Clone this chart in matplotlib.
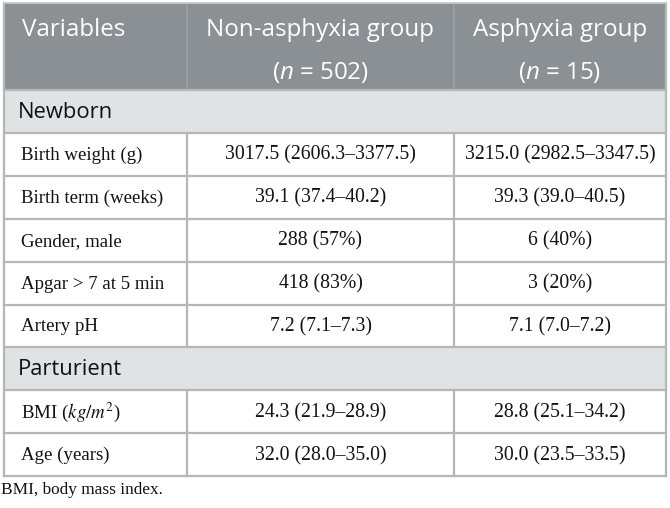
import matplotlib
matplotlib.use("Agg")
import matplotlib.pyplot as plt
from matplotlib.patches import Rectangle

# ---- data ----
col_headers = ["Variables", "Non-asphyxia group", "Asphyxia group"]
group_n = [502, 15]
sections = ["Newborn", "Parturient"]
newborn_vars = ["Birth weight (g)", "Birth term (weeks)", "Gender, male",
                "Apgar > 7 at 5 min", "Artery pH"]
newborn_non = ["3017.5 (2606.3\u20133377.5)", "39.1 (37.4\u201340.2)", "288 (57%)",
               "418 (83%)", "7.2 (7.1\u20137.3)"]
newborn_asp = ["3215.0 (2982.5\u20133347.5)", "39.3 (39.0\u201340.5)", "6 (40%)",
               "3 (20%)", "7.1 (7.0\u20137.2)"]
partur_vars = [r"BMI ($kg/m^2$)", "Age (years)"]
partur_non = ["24.3 (21.9\u201328.9)", "32.0 (28.0\u201335.0)"]
partur_asp = ["28.8 (25.1\u201334.2)", "30.0 (23.5\u201333.5)"]
footnote = "BMI, body mass index."

plt.rcParams['mathtext.fontset'] = 'custom'
plt.rcParams['mathtext.rm'] = 'Open Sans'
plt.rcParams['mathtext.it'] = 'Open Sans:italic'

W, H = 670, 508
fig = plt.figure(figsize=(W / 100, H / 100), dpi=100)
ax = fig.add_axes([0, 0, 1, 1])
ax.set_xlim(0, W)
ax.set_ylim(H, 0)
ax.axis('off')

left, right = 4, 666
xdiv = [left, 187, 454, right]
top = 3
header_h = 87
row_h = 42.9

hdr_bg = '#8a9094'
sec_bg = '#e0e3e4'
line_c = '#b4b6b8'
sans = 'Open Sans'
serif = 'Liberation Serif'
txt_c = '#111111'

# header
ax.add_patch(Rectangle((left, top), right - left, header_h, facecolor=hdr_bg,
                       edgecolor='none', zorder=1))
for x in xdiv[1:-1]:
    ax.plot([x, x], [top, top + header_h], color='#9ca1a5', lw=1.2, zorder=2)
hy1 = 29.5
hy2 = 72.5
hfs = 17.4
ax.text(22, hy1, col_headers[0], color='white', fontsize=hfs, family=sans,
        ha='left', va='center', zorder=3)
for i, name in enumerate(col_headers[1:]):
    cx = (xdiv[i + 1] + xdiv[i + 2]) / 2
    ax.text(cx, hy1, name, color='white', fontsize=hfs, family=sans,
            ha='center', va='center', zorder=3)
    ax.text(cx, hy2, r"($n$ = %d)" % group_n[i], color='white', fontsize=hfs,
            family=sans, ha='center', va='center', zorder=3,
            math_fontfamily='custom')

# body rows
rows = []
rows.append(('section', sections[0]))
for v, a, b in zip(newborn_vars, newborn_non, newborn_asp):
    rows.append(('data', (v, a, b)))
rows.append(('section', sections[1]))
for v, a, b in zip(partur_vars, partur_non, partur_asp):
    rows.append(('data', (v, a, b)))

y = top + header_h
for kind, content in rows:
    y0, y1 = y, y + row_h
    cy = (y0 + y1) / 2
    if kind == 'section':
        ax.add_patch(Rectangle((left, y0), right - left, row_h, facecolor=sec_bg,
                               edgecolor='none', zorder=1))
        ax.text(18, cy + 1, content, fontsize=15.8, family=sans, color=txt_c,
                ha='left', va='center', zorder=3)
    else:
        v, a, b = content
        for x in xdiv[1:-1]:
            ax.plot([x, x], [y0, y1], color=line_c, lw=1.6, zorder=2)
        ax.text(21, cy + 1, v, fontsize=13.6, family=serif, color=txt_c,
                ha='left', va='center', zorder=3, math_fontfamily='stix')
        ax.text((xdiv[1] + xdiv[2]) / 2, cy + 1, a, fontsize=14.2, family=serif,
                color=txt_c, ha='center', va='center', zorder=3)
        ax.text((xdiv[2] + xdiv[3]) / 2, cy + 1, b, fontsize=14.2, family=serif,
                color=txt_c, ha='center', va='center', zorder=3)
    ax.plot([left, right], [y0, y0], color=line_c, lw=1.6, zorder=2)
    y = y1
bottom = y
ax.plot([left, right], [bottom, bottom], color=line_c, lw=1.6, zorder=2)
# outer border
ax.plot([left, left], [top, bottom], color=line_c, lw=1.6, zorder=2)
ax.plot([right, right], [top, bottom], color=line_c, lw=1.6, zorder=2)
ax.plot([left, right], [top, top], color='#c8cacc', lw=1.2, zorder=2)

ax.text(1, 490, footnote, fontsize=12.4, family=serif, color=txt_c,
        ha='left', va='center')

fig.savefig('out.png', dpi=100)
